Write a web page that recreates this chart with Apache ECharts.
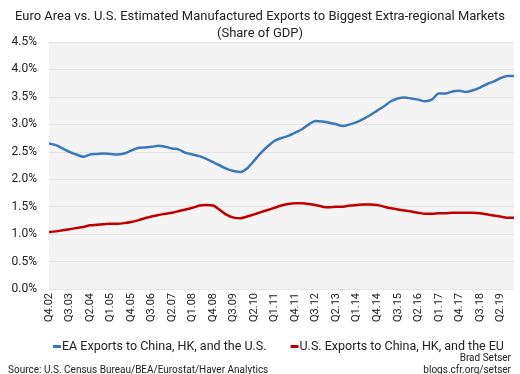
<!DOCTYPE html>
<html><head><meta charset="utf-8">
<script src="https://cdn.jsdelivr.net/npm/echarts@6/dist/echarts.min.js"></script>
<style>html,body{margin:0;padding:0;background:#fff}#c{width:520px;height:374px}</style>
</head><body><div id="c"></div>
<script>
const quarters = (function(){const q=[];q.push('Q4.02');for(let y=3;y<=19;y++){for(let k=1;k<=4;k++){q.push('Q'+k+'.'+(y<10?'0'+y:y));}}return q;})();
const eaExports = [2.65,2.62,2.56,2.50,2.45,2.41,2.45,2.46,2.47,2.46,2.45,2.47,2.52,2.57,2.58,2.59,2.61,2.59,2.56,2.54,2.48,2.45,2.42,2.37,2.31,2.25,2.19,2.15,2.13,2.20,2.34,2.48,2.60,2.70,2.75,2.79,2.85,2.91,3.00,3.06,3.05,3.03,3.00,2.97,3.00,3.04,3.10,3.17,3.25,3.33,3.42,3.47,3.49,3.47,3.45,3.42,3.45,3.56,3.56,3.60,3.61,3.59,3.62,3.67,3.73,3.78,3.84,3.88,3.88];
const usExports = [1.04,1.05,1.07,1.09,1.11,1.13,1.16,1.17,1.18,1.19,1.19,1.20,1.22,1.25,1.29,1.32,1.35,1.37,1.39,1.42,1.45,1.48,1.52,1.53,1.52,1.44,1.35,1.30,1.29,1.32,1.36,1.40,1.44,1.48,1.52,1.55,1.56,1.56,1.55,1.53,1.50,1.49,1.50,1.50,1.52,1.53,1.54,1.54,1.53,1.50,1.47,1.45,1.43,1.41,1.39,1.37,1.37,1.38,1.38,1.39,1.39,1.39,1.39,1.38,1.36,1.34,1.32,1.30,1.30];
const seriesNames = ['EA Exports to China, HK, and the U.S.','U.S. Exports to China, HK, and the EU'];
const titleText = 'Euro Area vs. U.S. Estimated Manufactured Exports to Biggest Extra-regional Markets\n(Share of GDP)';
const sourceText = 'Source: U.S. Census Bureau/BEA/Eurostat/Haver Analytics';
const creditName = 'Brad Setser';
const creditUrl = 'blogs.cfr.org/setser';
const FONT = 'Roboto, "Noto Sans", sans-serif';
const chart = echarts.init(document.getElementById('c'));
chart.setOption({
  backgroundColor:'#ffffff',
  animation:false,
  textStyle:{fontFamily:FONT},
  title:[{text:titleText,left:'center',top:3,textStyle:{fontSize:13,fontWeight:'normal',color:'#222',lineHeight:17,fontFamily:FONT}},
    {text:sourceText,left:3,top:360,textStyle:{fontSize:10,fontWeight:'normal',color:'#222',fontFamily:FONT}},
    {text:creditName,right:4,top:348,textStyle:{fontSize:10,fontWeight:'normal',color:'#222',fontFamily:FONT}},
    {text:creditUrl,right:4,top:360,textStyle:{fontSize:10,fontWeight:'normal',color:'#222',fontFamily:FONT}}],
  legend:{top:335,left:48,itemWidth:8,itemHeight:3,itemGap:24,icon:'rect',
    textStyle:{fontSize:12.5,color:'#222',padding:[0,0,0,-4],fontFamily:FONT},data:seriesNames},
  grid:{left:49,right:6,top:42,bottom:85,show:true,backgroundColor:'#f4f4f4',borderWidth:0},
  xAxis:{type:'category',data:quarters,boundaryGap:false,
    axisLine:{show:false},axisTick:{show:false},
    axisLabel:{interval:2,rotate:90,fontSize:11,color:'#222',margin:4,fontFamily:FONT}},
  yAxis:{type:'value',min:0,max:4.5,interval:0.5,
    axisLine:{show:false},axisTick:{show:false},
    splitLine:{lineStyle:{color:'#e4e4e4',width:1}},
    axisLabel:{formatter:v=>v.toFixed(1)+'%',fontSize:12,color:'#222',margin:12,fontFamily:FONT}},
  series:[
    {name:seriesNames[0],type:'line',data:eaExports,showSymbol:false,smooth:0.3,lineStyle:{width:2.5,color:'#3a78b8'},itemStyle:{color:'#3a78b8'}},
    {name:seriesNames[1],type:'line',data:usExports,showSymbol:false,smooth:0.3,lineStyle:{width:2.5,color:'#c00000'},itemStyle:{color:'#c00000'}}
  ]
});
</script></body></html>
